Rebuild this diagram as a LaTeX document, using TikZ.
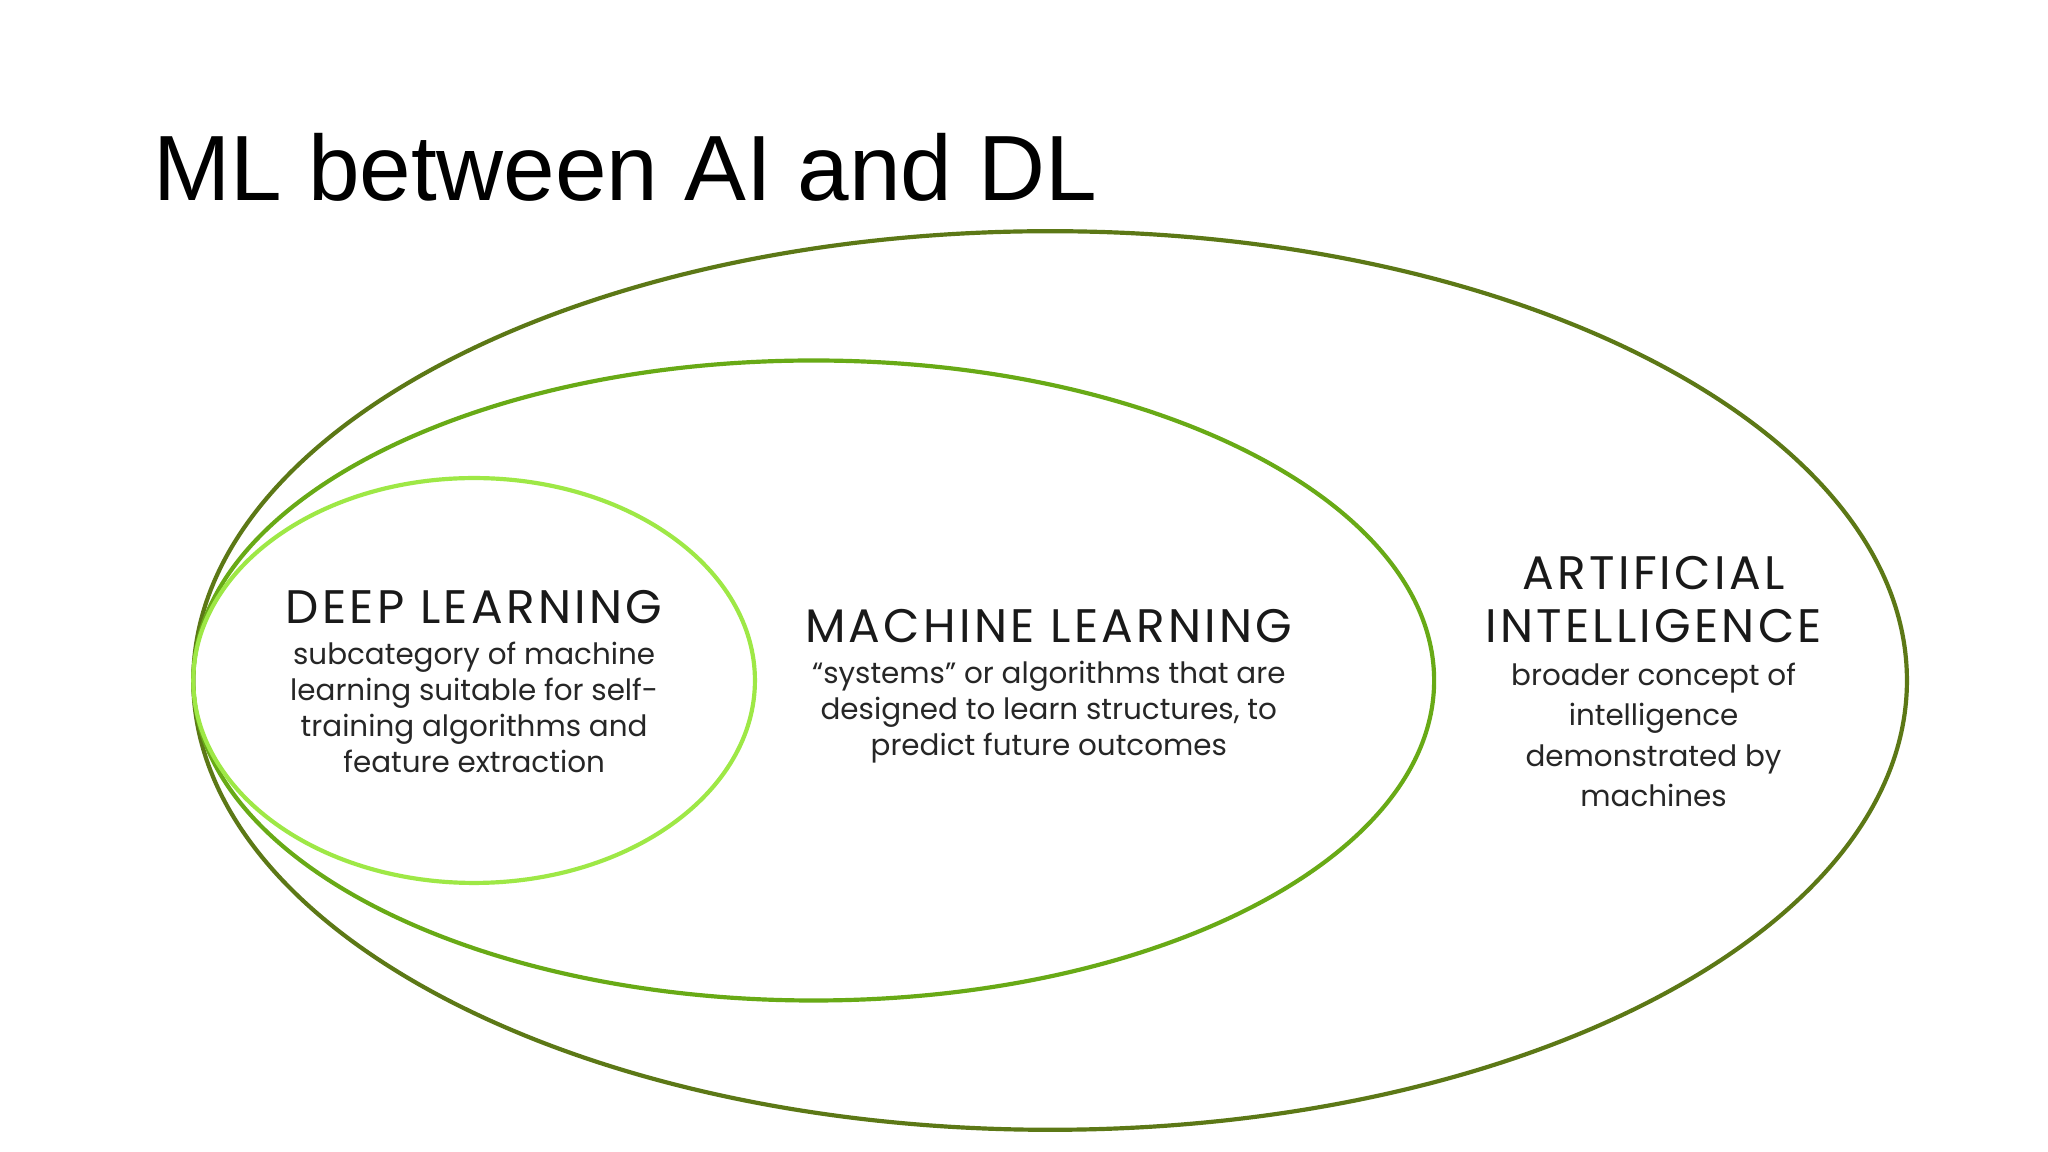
\documentclass[tikz,border=0pt]{standalone}
\usepackage{fontspec}
\setmainfont{Liberation Sans}
\newfontfamily\gfont{Poppins}
\newfontfamily\hfont[LetterSpace=7]{Poppins}
\definecolor{aicol}{RGB}{92,120,22}
\definecolor{mlcol}{RGB}{104,170,22}
\definecolor{dlcol}{RGB}{158,232,70}
\begin{document}
\begin{tikzpicture}[x=1pt,y=-1pt,
  head/.style={font=\hfont\fontsize{36}{41}\selectfont, align=center, text=black!90},
  body/.style={font=\gfont\fontsize{22.5}{27.5}\selectfont, align=center, text=black!85},
  ring/.style={line width=3.2pt}]
\useasboundingbox (0,0) rectangle (1568,882);
\fill[white] (0,0) rectangle (1568,882);
\node[anchor=west, font=\fontsize{71}{84}\selectfont] (title) at (114,128) {ML between AI and DL};
\draw[ring, aicol] (804,521) ellipse [x radius=656, y radius=344];
\draw[ring, mlcol] (623,521) ellipse [x radius=475, y radius=245];
\draw[ring, dlcol] (363,521) ellipse [x radius=215, y radius=155];
\node[head] (dlh) at (363,465) {DEEP LEARNING};
\node[body, anchor=north] (dlb) at (363,488) {subcategory of machine\\learning suitable for self-\\training algorithms and\\feature extraction};
\node[head] (mlh) at (803,479) {MACHINE LEARNING};
\node[body, anchor=north] (mlb) at (803,503) {“systems” or algorithms that are\\designed to learn structures, to\\predict future outcomes};
\node[head] (aih) at (1266,459) {ARTIFICIAL\\INTELLIGENCE};
\node[body, font=\gfont\fontsize{22.5}{31}\selectfont, anchor=north] (aib) at (1266,504) {broader concept of\\intelligence\\demonstrated by\\machines};
\end{tikzpicture}
\end{document}
